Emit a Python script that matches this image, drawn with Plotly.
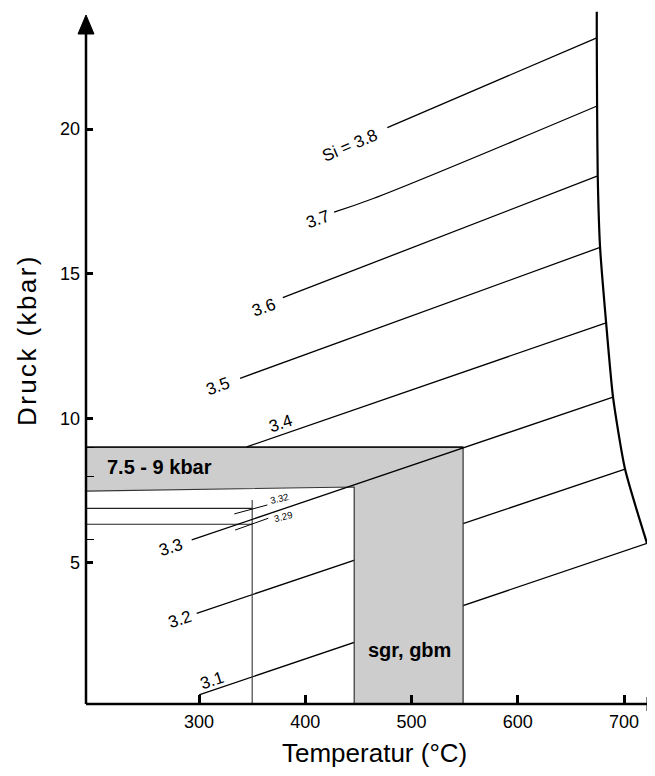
import plotly.graph_objects as go

# ---------------- data ----------------
X_TICKS = [300, 400, 500, 600, 700]
Y_TICKS = [5, 10, 15, 20]
Y_MINOR = [5.8, 8, 9]

# Si isopleths (temperature °C, pressure kbar)
T_31 = [300.0, 721.6]
P_31 = [0.43, 5.67]
T_32 = [297.8, 700.9]
P_32 = [3.25, 8.24]
T_33 = [293.1, 689.6]
P_33 = [5.79, 10.73]
T_34 = [344.9, 683.1]
P_34 = [9.01, 13.30]
T_35 = [338.6, 677.4]
P_35 = [11.38, 15.91]
T_36 = [378.8, 675.2]
P_36 = [14.17, 18.38]
T_37 = [427.1, 464.0, 674.6]
P_37 = [17.13, 17.60, 20.80]
T_38 = [477.2, 674.3]
P_38 = [20.05, 23.16]

# stability limit (right boundary)
T_LIMIT = [674.3, 674.3, 674.6, 675.2, 677.4, 683.1, 689.6, 700.9, 721.6]
P_LIMIT = [24.06, 23.16, 20.80, 18.38, 15.91, 13.30, 10.73, 8.24, 5.67]

# isopleth labels
LABEL_TEXT = ["3.1", "3.2", "3.3", "3.4", "3.5", "3.6", "3.7", "Si = 3.8"]
LABEL_T = [312.2, 281.8, 273.2, 377.2, 317.4, 361.2, 411.5, 442.1]
LABEL_P = [0.94, 3.05, 5.53, 9.80, 11.11, 13.83, 16.89, 19.42]

# measured Si values (short isopleth pieces)
T_332 = [333.2, 364.3]
P_332 = [6.69, 7.00]
T_329 = [333.9, 365.2]
P_329 = [6.13, 6.54]
SMALL_TEXT = ["3.32", "3.29"]
SMALL_T = [375.3, 379.7]
SMALL_P = [7.24, 6.59]

# reference temperature and pressures
T_REF = 350.0
P_REF_TOP = 7.17
P_REF = [6.88, 6.33]

# pressure band and temperature column
BAND_P_TOP = 9.0
BAND_P_LOW_LEFT = 7.48
BAND_P_LOW_RIGHT = 7.62
COL_T = [446.0, 548.5]
BAND_LABEL = "7.5 - 9 kbar"
BAND_LABEL_T, BAND_LABEL_P = 211.5, 8.30
COL_LABEL = "sgr, gbm"
COL_LABEL_T, COL_LABEL_P = 498.3, 1.98

X_TITLE = "Temperatur (°C)"
Y_TITLE = "Druck (kbar)"

X_RANGE = [193.6, 729.1]
Y_RANGE = [0.114, 24.19]

# ---------------- figure ----------------
OFF = 8                      # page body margin of the html page
W, H = 655 - OFF, 776 - OFF
ML, MR, MT, MB = 86 - OFF, 0, 0, 776 - 704
PW, PH = W - ML - MR, H - MT - MB
FONT = "Liberation Sans, Arial, Helvetica, sans-serif"


def px_x(px):
    """window pixel x -> paper x"""
    return (px - 86) / PW


def px_y(py):
    """window pixel y -> paper y"""
    return (704 - py) / PH


fig = go.Figure()
line_style = dict(color="black", width=1.3)

# isopleths below the grey column
for T, P in [(T_31, P_31), (T_32, P_32)]:
    fig.add_trace(go.Scatter(x=T, y=P, mode="lines", line=line_style, hoverinfo="skip"))

# grey band + column
poly_T = [X_RANGE[0], COL_T[1], COL_T[1], COL_T[0], COL_T[0], X_RANGE[0], X_RANGE[0]]
poly_P = [BAND_P_TOP, BAND_P_TOP, 0, 0, BAND_P_LOW_RIGHT, BAND_P_LOW_LEFT, BAND_P_TOP]
fig.add_trace(go.Scatter(x=poly_T, y=poly_P, mode="lines", fill="toself",
                         fillcolor="#cdcdcd", line=dict(color="#333333", width=1.2),
                         hoverinfo="skip"))
fig.add_trace(go.Scatter(x=[X_RANGE[0], COL_T[1]], y=[BAND_P_TOP, BAND_P_TOP], mode="lines",
                         line=dict(color="black", width=1.3), hoverinfo="skip"))

# reference lines
fig.add_trace(go.Scatter(x=[T_REF, T_REF], y=[0, P_REF_TOP], mode="lines",
                         line=dict(color="#333333", width=1.1), hoverinfo="skip"))
for p in P_REF:
    fig.add_trace(go.Scatter(x=[X_RANGE[0], T_REF], y=[p, p], mode="lines",
                             line=dict(color="#222222", width=1.1), hoverinfo="skip"))

for T, P in [(T_33, P_33), (T_34, P_34), (T_35, P_35), (T_36, P_36), (T_37, P_37), (T_38, P_38)]:
    fig.add_trace(go.Scatter(x=T, y=P, mode="lines",
                             line=dict(color="black", width=1.3, shape="spline", smoothing=1.0),
                             hoverinfo="skip"))

for T, P in [(T_332, P_332), (T_329, P_329)]:
    fig.add_trace(go.Scatter(x=T, y=P, mode="lines", line=dict(color="black", width=1), hoverinfo="skip"))

fig.add_trace(go.Scatter(x=T_LIMIT, y=P_LIMIT, mode="lines",
                         line=dict(color="black", width=2.2, shape="spline", smoothing=0.6),
                         hoverinfo="skip"))

annotations = []
angles = [-18, -18, -18, -18, -20, -20, -20, -23]
for txt, t, p, a in zip(LABEL_TEXT, LABEL_T, LABEL_P, angles):
    annotations.append(dict(x=t, y=p, text=txt, showarrow=False, textangle=a,
                            font=dict(size=17, color="black", family=FONT)))
for txt, t, p in zip(SMALL_TEXT, SMALL_T, SMALL_P):
    annotations.append(dict(x=t, y=p, text=txt, showarrow=False, textangle=-14,
                            font=dict(size=9.5, color="black", family=FONT)))
annotations.append(dict(x=BAND_LABEL_T, y=BAND_LABEL_P, text="<b>" + BAND_LABEL + "</b>",
                        showarrow=False, xanchor="left", yanchor="middle",
                        font=dict(size=20, color="black", family=FONT)))
annotations.append(dict(x=COL_LABEL_T, y=COL_LABEL_P, text="<b>" + COL_LABEL + "</b>",
                        showarrow=False, xanchor="center", yanchor="middle",
                        font=dict(size=20, color="black", family=FONT)))
# axis titles
annotations.append(dict(xref="paper", yref="paper", x=px_x(27), y=px_y(340),
                        xanchor="center", yanchor="middle",
                        text='<span style="letter-spacing:2.4px">' + Y_TITLE + "</span>",
                        textangle=-90, showarrow=False,
                        font=dict(size=26, color="black", family=FONT)))
annotations.append(dict(xref="paper", yref="paper", x=px_x(374.5), y=px_y(753),
                        xanchor="center", yanchor="middle",
                        text=X_TITLE, showarrow=False,
                        font=dict(size=26, color="black", family=FONT)))

# axes lines with arrowheads
tip_py = 15
shapes = [
    dict(type="line", xref="paper", yref="paper", x0=0, x1=0, y0=0, y1=px_y(tip_py + 6),
         line=dict(color="black", width=2.5)),
    dict(type="path", xref="paper", yref="paper",
         path=f"M {px_x(78)} {px_y(tip_py+19)} L {px_x(86)} {px_y(tip_py)} L {px_x(94)} {px_y(tip_py+19)} Z",
         fillcolor="black", line=dict(color="black", width=1)),
    dict(type="line", xref="paper", yref="paper", x0=0, x1=1, y0=0, y1=0,
         line=dict(color="black", width=2.5)),
    dict(type="path", xref="paper", yref="paper",
         path=f"M {px_x(647)} {px_y(697)} L {px_x(665)} {px_y(704)} L {px_x(647)} {px_y(711)} Z",
         fillcolor="black", line=dict(color="black", width=1)),
]

fig.update_layout(
    width=W, height=H,
    margin=dict(l=ML, r=MR, t=MT, b=MB, pad=0),
    paper_bgcolor="white", plot_bgcolor="white",
    showlegend=False,
    annotations=annotations,
    shapes=shapes,
    font=dict(family=FONT, color="black"),
    xaxis=dict(range=X_RANGE, showgrid=False, zeroline=False, showline=False,
               tickmode="array", tickvals=X_TICKS, ticks="inside", ticklen=9,
               tickwidth=2.5, tickcolor="black", tickfont=dict(size=18, family=FONT),
               ticklabelstandoff=5),
    yaxis=dict(range=Y_RANGE, showgrid=False, zeroline=False, showline=False,
               tickmode="array", tickvals=Y_TICKS, ticks="inside", ticklen=7,
               tickwidth=3, tickcolor="black", tickfont=dict(size=18, family=FONT),
               ticklabelstandoff=5,
               minor=dict(tickmode="array", tickvals=Y_MINOR, ticks="inside",
                          ticklen=8, tickwidth=1, tickcolor="black")),
)

fig.write_html("out.html")
